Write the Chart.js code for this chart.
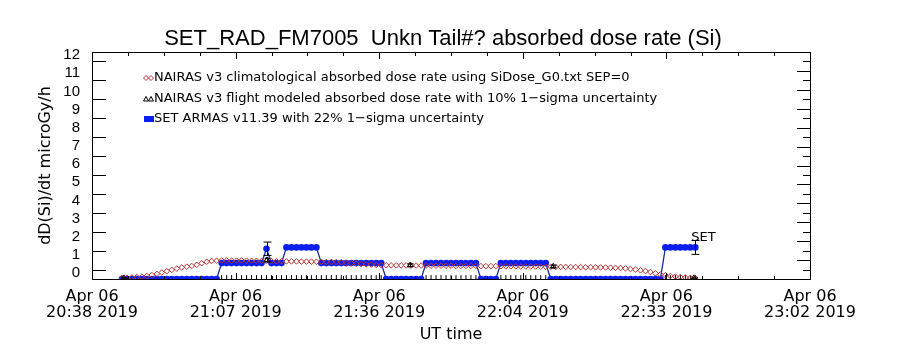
<!DOCTYPE html>
<html>
<head>
<meta charset="utf-8">
<script src="https://cdn.jsdelivr.net/npm/chart.js@4.4.1/dist/chart.umd.min.js"></script>
<style>
    html, body { margin: 0; padding: 0; background: #fff; }
</style>
</head>
<body>
<canvas id="doseChart" width="900" height="350"></canvas>
<script>
// minutes after 20:38 UT (Apr 06 2019)
const sampleMinutes = [
    6, 7, 8, 9, 10, 11, 12, 13, 14, 15, 16, 17, 18, 19, 20, 21, 22, 23, 24, 25,
    26, 27, 28, 29, 30, 31, 32, 33, 34, 35, 36, 37, 38, 39, 40, 41, 42, 43, 44, 45,
    46, 47, 48, 49, 50, 51, 52, 53, 54, 55, 56, 57, 58, 59, 60, 61, 62, 63, 64, 65,
    66, 67, 68, 69, 70, 71, 72, 73, 74, 75, 76, 77, 78, 79, 80, 81, 82, 83, 84, 85,
    86, 87, 88, 89, 90, 91, 92, 93, 94, 95, 96, 97, 98, 99, 100, 101, 102, 103, 104, 105,
    106, 107, 108, 109, 110, 111, 112, 113, 114, 115, 116, 117, 118, 119, 120, 121
];

// NAIRAS v3 climatological dose rate
const climDose = [
    0.06, 0.07, 0.08, 0.10, 0.12, 0.16, 0.21, 0.27, 0.34, 0.41, 0.48, 0.55, 0.61, 0.65, 0.69, 0.75, 0.83, 0.91, 0.95, 0.97,
    0.98, 0.98, 0.97, 0.97, 0.98, 0.97, 0.96, 0.96, 0.96, 0.95, 0.95, 0.94, 0.94, 0.93, 0.93, 0.93, 0.92, 0.92, 0.92, 0.91,
    0.91, 0.90, 0.90, 0.89, 0.88, 0.86, 0.84, 0.82, 0.80, 0.78, 0.76, 0.74, 0.73, 0.73, 0.72, 0.72, 0.72, 0.72, 0.71, 0.71,
    0.71, 0.71, 0.70, 0.70, 0.70, 0.70, 0.70, 0.69, 0.69, 0.69, 0.69, 0.69, 0.68, 0.68, 0.68, 0.68, 0.67, 0.67, 0.67, 0.67,
    0.66, 0.66, 0.66, 0.66, 0.65, 0.65, 0.65, 0.64, 0.64, 0.64, 0.63, 0.63, 0.63, 0.62, 0.62, 0.62, 0.61, 0.61, 0.60, 0.59,
    0.58, 0.56, 0.53, 0.50, 0.46, 0.42, 0.37, 0.30, 0.24, 0.20, 0.16, 0.13, 0.10, 0.08, 0.06, 0.05
];

// SET ARMAS v11.39 measured dose rate
const setDose = [
    0, 0, 0, 0, 0, 0, 0, 0, 0, 0, 0, 0, 0, 0, 0, 0, 0, 0, 0, 0,
    0.84, 0.84, 0.84, 0.84, 0.84, 0.84, 0.84, 0.84, 0.84, 1.6, 0.84, 0.84, 0.84, 1.67, 1.67, 1.67, 1.67, 1.67, 1.67, 1.67,
    0.84, 0.84, 0.84, 0.84, 0.84, 0.84, 0.84, 0.84, 0.84, 0.84, 0.84, 0.84, 0.84, 0, 0, 0, 0, 0, 0, 0,
    0, 0.84, 0.84, 0.84, 0.84, 0.84, 0.84, 0.84, 0.84, 0.84, 0.84, 0.84, 0, 0, 0, 0, 0.84, 0.84, 0.84, 0.84,
    0.84, 0.84, 0.84, 0.84, 0.84, 0.84, 0, 0, 0, 0, 0, 0, 0, 0, 0, 0, 0, 0, 0, 0,
    0, 0, 0, 0, 0, 0, 0, 0, 0, 1.67, 1.67, 1.67, 1.67, 1.67, 1.67, 1.67
];
const setErrMinutes = [35, 121];
const setErrFrac = 0.22;

// NAIRAS v3 flight modeled dose rate
const flightMinutes = [6.4, 35.1, 63.8, 92.5, 120.7];
const flightDose = [0.05, 1.0, 0.73, 0.66, 0.05];
const flightErrFrac = 0.10;

const xTickMinutes = [0, 28.8, 57.6, 86.4, 115.2, 144];
const xTickLabels = [
    ['Apr 06', '20:38 2019'], ['Apr 06', '21:07 2019'], ['Apr 06', '21:36 2019'],
    ['Apr 06', '22:04 2019'], ['Apr 06', '22:33 2019'], ['Apr 06', '23:02 2019']
];
const yTickValues = [0, 1, 2, 3, 4, 5, 6, 7, 8, 9, 10, 11, 12];

const chartTitle = 'SET_RAD_FM7005  Unkn Tail#? absorbed dose rate (Si)';
const legendLabels = [
    'NAIRAS v3 climatological absorbed dose rate using SiDose_G0.txt SEP=0',
    'NAIRAS v3 flight modeled absorbed dose rate with 10% 1\u2212sigma uncertainty',
    'SET ARMAS v11.39 with 22% 1\u2212sigma uncertainty'
];

const RED = '#b83232';
const BLUE = '#0a1ef0';
const NAVY = '#1a2aa0';

function errorBar(ctx, px, yTop, yBot, half) {
    ctx.beginPath();
    ctx.moveTo(px, yTop); ctx.lineTo(px, yBot);
    ctx.moveTo(px - half, yTop); ctx.lineTo(px + half, yTop);
    ctx.moveTo(px - half, yBot); ctx.lineTo(px + half, yBot);
    ctx.stroke();
}

// IDL-style frame: inward ticks, error bars, legend, title
const idlFrame = {
    id: 'idlFrame',
    afterDatasetsDraw(chart) {
        const { ctx, chartArea: a, scales: { x, y } } = chart;
        ctx.save();
        ctx.strokeStyle = '#000';
        ctx.fillStyle = '#000';
        ctx.lineWidth = 1;

        // flight modeled error bars
        flightMinutes.forEach((m, i) => {
            const v = flightDose[i];
            const px = Math.round(x.getPixelForValue(m)) + 0.5;
            errorBar(ctx, px, y.getPixelForValue(v * (1 + flightErrFrac)), y.getPixelForValue(v * (1 - flightErrFrac)), 3);
        });

        // SET error bars
        setErrMinutes.forEach(m => {
            const v = setDose[sampleMinutes.indexOf(m)];
            const px = Math.round(x.getPixelForValue(m)) + 0.5;
            errorBar(ctx, px, y.getPixelForValue(v * (1 + setErrFrac)), y.getPixelForValue(v * (1 - setErrFrac)), 4);
        });
        const last = setErrMinutes[setErrMinutes.length - 1];
        ctx.font = '13px "DejaVu Sans"';
        ctx.textAlign = 'left';
        ctx.textBaseline = 'alphabetic';
        ctx.fillText('SET', x.getPixelForValue(last) - 4, 241);

        // frame
        ctx.strokeRect(a.left + 0.5, a.top + 0.5, a.right - a.left, a.bottom - a.top);

        ctx.beginPath();
        for (let i = 0; i < xTickMinutes.length; i++) {
            const px = Math.round(x.getPixelForValue(xTickMinutes[i])) + 0.5;
            ctx.moveTo(px, a.top); ctx.lineTo(px, a.top + 7);
            ctx.moveTo(px, a.bottom); ctx.lineTo(px, a.bottom - 6);
            if (i < xTickMinutes.length - 1) {
                const step = (xTickMinutes[i + 1] - xTickMinutes[i]) / 4;
                for (let k = 1; k < 4; k++) {
                    const mx = Math.round(x.getPixelForValue(xTickMinutes[i] + k * step)) + 0.5;
                    ctx.moveTo(mx, a.top); ctx.lineTo(mx, a.top + 4);
                    ctx.moveTo(mx, a.bottom); ctx.lineTo(mx, a.bottom - 3);
                }
            }
        }
        for (let v = 0.5; v < 12; v += 0.5) {
            const py = Math.round(y.getPixelForValue(v)) + 0.5;
            const long = Number.isInteger(v);
            ctx.moveTo(a.right, py); ctx.lineTo(a.right - (long ? 13 : 7), py);
            if (!long) { ctx.moveTo(a.left, py); ctx.lineTo(a.left + 14, py); }
        }
        ctx.stroke();

        // title
        ctx.font = '22px "Liberation Sans"';
        ctx.textAlign = 'center';
        ctx.fillText(chartTitle, 443, 45);

        // legend
        ctx.font = '13px "DejaVu Sans"';
        ctx.textAlign = 'left';
        ctx.textBaseline = 'middle';
        const rows = [78, 99, 119];
        legendLabels.forEach((t, i) => ctx.fillText(t, 154, rows[i]));

        ctx.strokeStyle = RED;
        [146, 151].forEach(cx => {
            ctx.beginPath();
            ctx.moveTo(cx - 2.5, rows[0]); ctx.lineTo(cx, rows[0] - 2.5);
            ctx.lineTo(cx + 2.5, rows[0]); ctx.lineTo(cx, rows[0] + 2.5);
            ctx.closePath(); ctx.stroke();
        });
        ctx.strokeStyle = '#000';
        [146, 151].forEach(cx => {
            ctx.beginPath();
            ctx.moveTo(cx - 2.5, rows[1] + 2); ctx.lineTo(cx, rows[1] - 2.5);
            ctx.lineTo(cx + 2.5, rows[1] + 2); ctx.closePath(); ctx.stroke();
        });
        ctx.fillStyle = BLUE;
        ctx.fillRect(144, rows[2] - 3, 10, 6);
        ctx.restore();
    }
};

const ctx = document.getElementById('doseChart').getContext('2d');
new Chart(ctx, {
    type: 'scatter',
    data: {
        datasets: [
            {
                label: 'flight',
                data: flightMinutes.map((m, i) => ({ x: m, y: flightDose[i] })),
                xAxisID: 'x', yAxisID: 'y',
                pointStyle: 'triangle',
                pointRadius: 3.2,
                borderColor: '#000',
                backgroundColor: 'rgba(0,0,0,0)',
                borderWidth: 1,
                order: 0
            },
            {
                label: 'clim',
                data: sampleMinutes.map((m, i) => ({ x: m, y: climDose[i] })),
                xAxisID: 'x', yAxisID: 'y',
                pointStyle: 'rectRot',
                pointRadius: 2.8,
                borderColor: RED,
                backgroundColor: 'rgba(0,0,0,0)',
                borderWidth: 1,
                order: 1
            },
            {
                label: 'set',
                data: sampleMinutes.map((m, i) => ({ x: m, y: setDose[i] })),
                xAxisID: 'x', yAxisID: 'y',
                showLine: true,
                borderColor: NAVY,
                borderWidth: 1.3,
                pointRadius: 3.3,
                pointBackgroundColor: BLUE,
                pointBorderWidth: 0,
                order: 2
            },
            {
                label: 'marks',
                data: sampleMinutes.filter((m, i) => setDose[i] > 0).map(m => ({ x: m, y: 0.1 })),
                xAxisID: 'x', yAxisID: 'y',
                pointStyle: 'line',
                pointRotation: 90,
                pointRadius: 2,
                borderColor: '#000',
                borderWidth: 1,
                order: 3
            }
        ]
    },
    options: {
        responsive: false,
        animation: false,
        devicePixelRatio: 1,
        events: [],
        layout: { padding: { top: 52, right: 90, left: 0, bottom: 0 } },
        plugins: { legend: { display: false }, tooltip: { enabled: false } },
        scales: {
            x: {
                type: 'linear',
                position: 'bottom',
                min: 0, max: 144,
                grid: { display: false, drawTicks: false },
                border: { display: false },
                afterBuildTicks: s => { s.ticks = xTickMinutes.map(v => ({ value: v })); },
                afterFit: s => { s.height = 71; },
                ticks: {
                    autoSkip: false, maxRotation: 0, padding: 10, color: '#000',
                    font: { family: 'DejaVu Sans', size: 16, lineHeight: 1 },
                    callback: (v, i) => xTickLabels[i]
                },
                title: {
                    display: true, text: 'UT time', color: '#000',
                    font: { family: 'DejaVu Sans', size: 16 },
                    padding: { top: 0, bottom: 6 }
                }
            },
            y: {
                type: 'linear',
                position: 'right',
                display: false,
                min: 0, max: 12
            },
            yl: {
                type: 'linear',
                position: 'left',
                min: -0.33, max: 12.17,
                grid: { display: false, drawTicks: false },
                border: { display: false },
                afterBuildTicks: s => { s.ticks = yTickValues.map(v => ({ value: v })); },
                afterFit: s => { s.width = 92; },
                ticks: {
                    autoSkip: false, padding: 12, color: '#000',
                    font: { family: 'Liberation Sans', size: 15 },
                    callback: v => String(v)
                },
                title: {
                    display: true, text: 'dD(Si)/dt microGy/h', color: '#000',
                    font: { family: 'DejaVu Sans', size: 16 },
                    padding: { top: 36, bottom: 0 }
                }
            }
        }
    },
    plugins: [idlFrame]
});
</script>
</body>
</html>
